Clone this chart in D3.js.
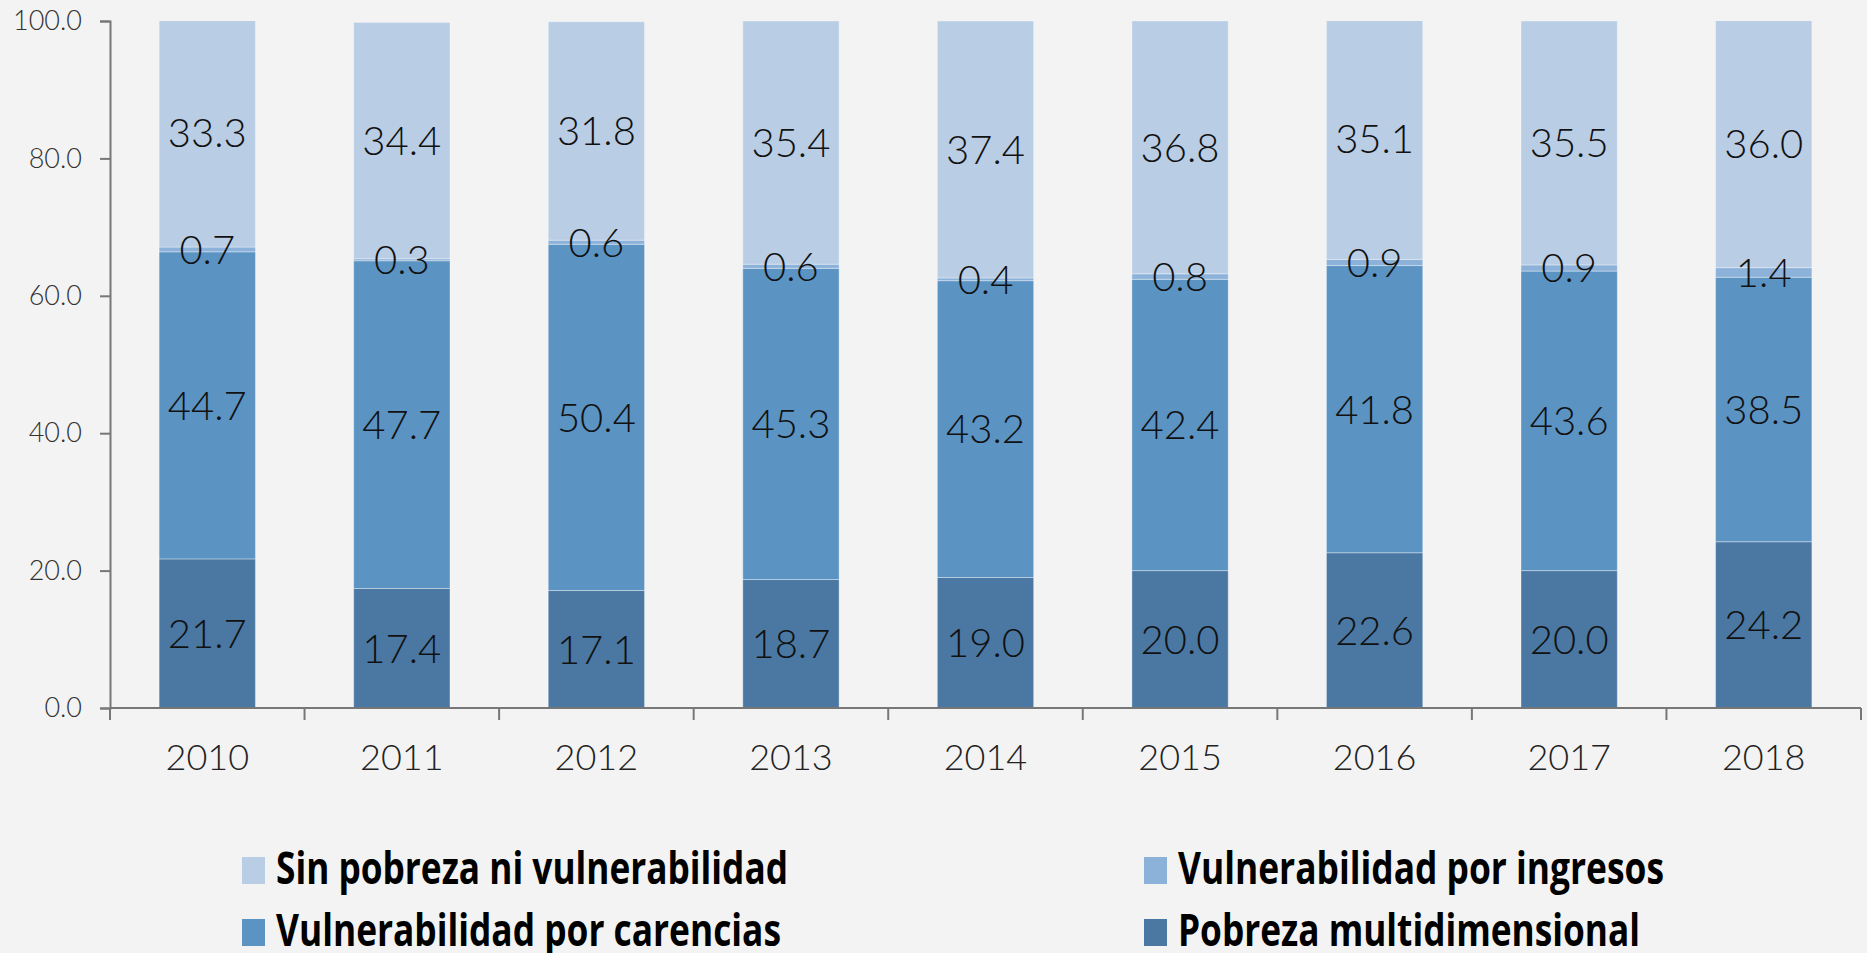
<!DOCTYPE html>
<html>
<head>
<meta charset="utf-8">
<script src="https://cdn.jsdelivr.net/npm/d3@7"></script>
<style>
  body { margin: 0; background: #f3f3f3; }
  svg { display: block; }
</style>
</head>
<body>
<div id="chart-area"></div>
<script>
// data
let years = ["2010", "2011", "2012", "2013", "2014", "2015", "2016", "2017", "2018"];
let pobreza = [21.7, 17.4, 17.1, 18.7, 19.0, 20.0, 22.6, 20.0, 24.2];
let carencias = [44.7, 47.7, 50.4, 45.3, 43.2, 42.4, 41.8, 43.6, 38.5];
let ingresos = [0.7, 0.3, 0.6, 0.6, 0.4, 0.8, 0.9, 0.9, 1.4];
let sinPobreza = [33.3, 34.4, 31.8, 35.4, 37.4, 36.8, 35.1, 35.5, 36.0];
let yTicks = [0, 20, 40, 60, 80, 100];
let seriesNames = ["Pobreza multidimensional", "Vulnerabilidad por carencias",
                   "Vulnerabilidad por ingresos", "Sin pobreza ni vulnerabilidad"];

let colors = {
    "Pobreza multidimensional": "#4a78a3",
    "Vulnerabilidad por carencias": "#5b93c3",
    "Vulnerabilidad por ingresos": "#8db2da",
    "Sin pobreza ni vulnerabilidad": "#b9cde5"
};

let numFont = "'Lato Light', 'Open Sans Light', Lato, sans-serif";

let W = 1867, H = 953;
let margin = {top: 21, right: 6, bottom: 245, left: 110},
    width = W - margin.left - margin.right,
    height = H - margin.top - margin.bottom;

// build table for the stack
let table = years.map((y, i) => ({
    year: y,
    "Pobreza multidimensional": pobreza[i],
    "Vulnerabilidad por carencias": carencias[i],
    "Vulnerabilidad por ingresos": ingresos[i],
    "Sin pobreza ni vulnerabilidad": sinPobreza[i]
}));

let stack = d3.stack().keys(seriesNames)(table);

let x = d3.scaleBand()
    .domain(years)
    .range([0, width])
    .paddingInner(0.505)
    .paddingOuter(0.2525);

let y = d3.scaleLinear()
    .domain([0, 100])
    .range([height, 0]);

let svg = d3.select("#chart-area")
    .append("svg")
        .attr("width", W)
        .attr("height", H)
        .style("background", "#f3f3f3");

// bars are cut at the axis maximum, like the original
svg.append("defs").append("clipPath")
    .attr("id", "plot-clip")
    .append("rect")
        .attr("x", 0).attr("y", 0)
        .attr("width", width).attr("height", height);

let g = svg.append("g")
    .attr("transform", "translate(" + margin.left + ", " + margin.top + ")");

// bars
let layers = g.append("g")
    .attr("clip-path", "url(#plot-clip)")
    .selectAll(".layer")
    .data(stack)
    .enter().append("g")
        .attr("class", "layer")
        .attr("fill", d => colors[d.key]);

layers.selectAll("rect")
    .data(d => d)
    .enter().append("rect")
        .attr("x", d => x(d.data.year))
        .attr("width", x.bandwidth())
        .attr("y", d => y(d[1]))
        .attr("height", d => y(d[0]) - y(d[1]))
        .attr("stroke", "rgba(255,255,255,0.35)")
        .attr("stroke-width", 1);

// value labels, drawn after all bars so thin segments stay readable
let labelData = stack.flatMap(s => s.map(d => ({year: d.data.year, lo: d[0], hi: d[1]})));

g.selectAll(".value-label")
    .data(labelData)
    .enter().append("text")
        .attr("class", "value-label")
        .attr("x", d => x(d.year) + x.bandwidth() / 2)
        .attr("y", d => y((d.lo + d.hi) / 2))
        .attr("dy", "0.36em")
        .attr("text-anchor", "middle")
        .attr("font-family", numFont)
        .attr("font-weight", 300)
        .attr("font-size", "40px")
        .attr("fill", "#111")
        .text(d => (d.hi - d.lo).toFixed(1));

// y axis
let yAxisCall = d3.axisLeft(y)
    .tickValues(yTicks)
    .tickSize(10)
    .tickPadding(18)
    .tickFormat(d3.format(".1f"));

let yAxisGroup = g.append("g")
    .attr("class", "y-axis")
    .call(yAxisCall);

yAxisGroup.select(".domain").attr("stroke", "#777").attr("stroke-width", 2);
yAxisGroup.selectAll(".tick line").attr("stroke", "#777").attr("stroke-width", 2);
yAxisGroup.selectAll("text")
    .attr("font-family", numFont)
    .attr("font-weight", 300)
    .attr("font-size", "27px")
    .attr("fill", "#333");

// x axis: ticks at band boundaries
let xAxisGroup = g.append("g")
    .attr("class", "x-axis")
    .attr("transform", "translate(0, " + height + ")");

xAxisGroup.append("line")
    .attr("x1", 0).attr("x2", width)
    .attr("stroke", "#777").attr("stroke-width", 2);

let step = x.step();
let bounds = d3.range(years.length + 1).map(i => i * step);

xAxisGroup.selectAll(".xtick")
    .data(bounds)
    .enter().append("line")
        .attr("class", "xtick")
        .attr("x1", d => d).attr("x2", d => d)
        .attr("y1", 0).attr("y2", 12)
        .attr("stroke", "#777").attr("stroke-width", 2);

xAxisGroup.selectAll(".xlabel")
    .data(years)
    .enter().append("text")
        .attr("class", "xlabel")
        .attr("x", d => x(d) + x.bandwidth() / 2)
        .attr("y", 62)
        .attr("text-anchor", "middle")
        .attr("font-family", numFont)
        .attr("font-weight", 300)
        .attr("font-size", "36px")
        .attr("fill", "#222")
        .text(d => d);

// legend
let legendItems = [
    {name: "Sin pobreza ni vulnerabilidad", x: 242, y: 857, w: 512},
    {name: "Vulnerabilidad por ingresos", x: 1144, y: 857, w: 486},
    {name: "Vulnerabilidad por carencias", x: 242, y: 919, w: 505},
    {name: "Pobreza multidimensional", x: 1144, y: 919, w: 462}
];

let legend = svg.selectAll(".legend")
    .data(legendItems)
    .enter().append("g")
        .attr("class", "legend")
        .attr("transform", d => "translate(" + d.x + ", " + d.y + ")");

legend.append("rect")
    .attr("width", 23)
    .attr("height", 27)
    .attr("fill", d => colors[d.name]);

legend.append("text")
    .attr("x", 34)
    .attr("y", 27)
    .attr("font-family", "'Liberation Sans Narrow', 'Open Sans', sans-serif")
    .attr("font-weight", "bold")
    .attr("font-size", "44px")
    .attr("textLength", d => d.w)
    .attr("lengthAdjust", "spacingAndGlyphs")
    .attr("fill", "#000")
    .text(d => d.name);
</script>
</body>
</html>
